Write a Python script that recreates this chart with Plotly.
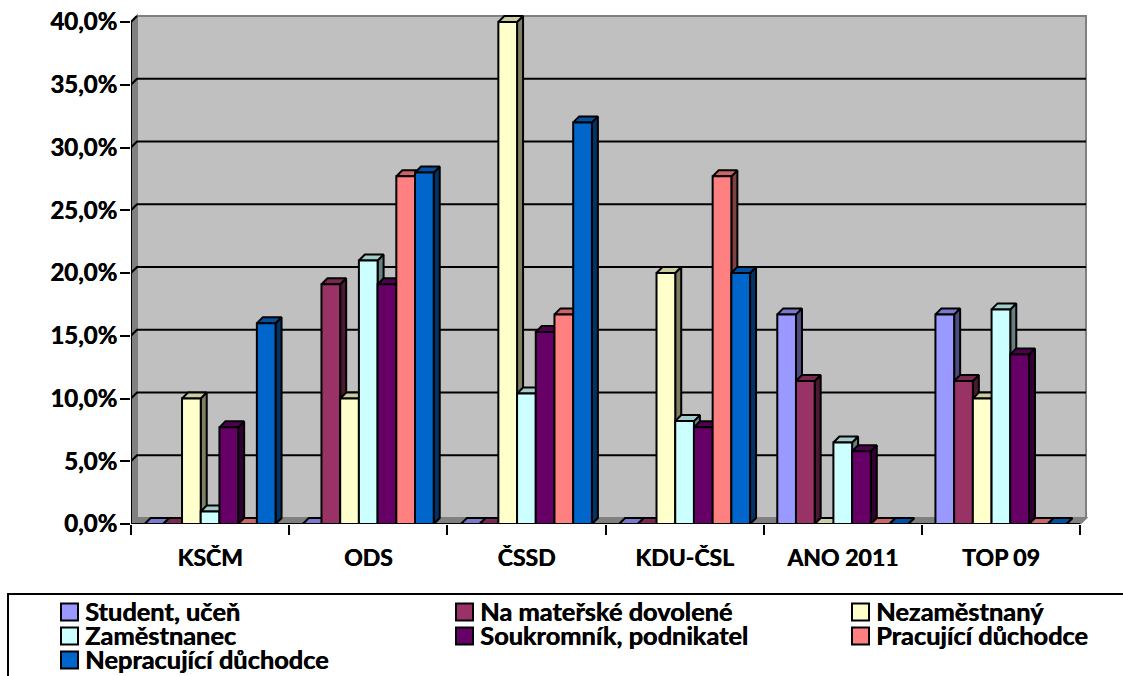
import plotly.graph_objects as go

categories = ["KSČM", "ODS", "ČSSD", "KDU-ČSL", "ANO 2011", "TOP 09"]
series_names = ["Student, učeň", "Na mateřské dovolené", "Nezaměstnaný", "Zaměstnanec",
                "Soukromník, podnikatel", "Pracující důchodce", "Nepracující důchodce"]
student = [0, 0, 0, 0, 16.7, 16.7]
materska = [0, 19.1, 0, 0, 11.4, 11.4]
nezamestnany = [10.0, 10.0, 40.0, 20.0, 0, 10.0]
zamestnanec = [1.0, 21.0, 10.4, 8.2, 6.5, 17.1]
soukromnik = [7.7, 19.1, 15.3, 7.7, 5.8, 13.5]
pracujici = [0, 27.7, 16.7, 27.7, 0, 0]
nepracujici = [16.0, 28.0, 32.0, 20.0, 0, 0]
series_values = [student, materska, nezamestnany, zamestnanec, soukromnik, pracujici, nepracujici]
colors = ["#9999FF", "#993366", "#FFFFCC", "#CCFFFF", "#660066", "#FF8080", "#0066CC"]
y_ticks = [0, 5, 10, 15, 20, 25, 30, 35, 40]
y_labels = ["0,0%", "5,0%", "10,0%", "15,0%", "20,0%", "25,0%", "30,0%", "35,0%", "40,0%"]

W, H = 1123, 676
FONT = "Lato"
WEIGHT = "bold"
SHADOW = "0.5px 0 0 #000"
FS_Y, FS_X, FS_LEG = 24, 23, 25.4
L, R, T, B = 131, 1092, 10, 524     # plot area in pixels
CAT_PX = (1080 - 131) / 6
PCT_PX = (524 - 22) / 40
DEPTH = 6
dx, dy = DEPTH / CAT_PX, DEPTH / PCT_PX
GAP = 0.172
bw = (1 - GAP) / 7
x0, x1 = -0.5, 5.5


def shade(hex_color, f):
    r, g, b = (int(hex_color[i:i + 2], 16) for i in (1, 3, 5))
    return f"rgb({int(r * f)},{int(g * f)},{int(b * f)})"


def px_x(p):
    return (p - L) / (R - L)


def px_y(p):
    return (B - p) / (B - T)


fig = go.Figure()

# Walls of the 3-D box
wall_line = dict(color="#808080", width=2)
shapes = [
    dict(type="path", xref="x", yref="y", layer="below", fillcolor="#808080", line=wall_line,
         path=f"M{x0},0 L{x0 + dx},{dy} L{x0 + dx},{40 + dy} L{x0},40 Z"),
    dict(type="path", xref="x", yref="y", layer="below", fillcolor="#808080", line=wall_line,
         path=f"M{x0},0 L{x1},0 L{x1 + dx},{dy} L{x0 + dx},{dy} Z"),
    dict(type="rect", xref="x", yref="y", layer="below", fillcolor="#C0C0C0", line=wall_line,
         x0=x0 + dx, x1=x1 + dx, y0=dy, y1=40 + dy),
]

# Gridlines on the back wall with their slanted stubs on the side wall
gx, gy = [], []
for v in y_ticks[1:-1]:
    gx += [x0, x0 + dx, x1 + dx, None]
    gy += [v, v + dy, v + dy, None]
fig.add_trace(go.Scatter(x=gx, y=gy, mode="lines", line=dict(color="black", width=2),
                         hoverinfo="skip", showlegend=False, zorder=0))
fig.add_trace(go.Scatter(x=[x0, x0 + dx], y=[40, 40 + dy], mode="lines", line=dict(color="black", width=2),
                         hoverinfo="skip", showlegend=False, zorder=0))

# Side faces, then top faces, then fronts
for i, (vals, col) in enumerate(zip(series_values, colors)):
    sx, sy, tx, ty = [], [], [], []
    for c, v in enumerate(vals):
        left = c - (1 - GAP) / 2 + i * bw
        right = left + bw
        sx += [right, right + dx, right + dx, right, right, None]
        sy += [0, dy, v + dy, v, 0, None]
        tx += [left, right, right + dx, left + dx, left, None]
        ty += [v, v, v + dy, v + dy, v, None]
    fig.add_trace(go.Scatter(x=sx, y=sy, mode="lines", fill="toself", fillcolor=shade(col, 0.5),
                             line=dict(color="black", width=2), hoverinfo="skip", showlegend=False, zorder=1))
    fig.add_trace(go.Scatter(x=tx, y=ty, mode="lines", fill="toself", fillcolor=shade(col, 0.8),
                             line=dict(color="black", width=2), hoverinfo="skip", showlegend=False, zorder=2))

for name, vals, col in zip(series_names, series_values, colors):
    fig.add_trace(go.Bar(x=list(range(6)), y=vals, name=name, marker=dict(color=col, line=dict(color="black", width=2)),
                         showlegend=False, zorder=3))

# Front axis lines
fig.add_trace(go.Scatter(x=[x0, x0, x1], y=[40, 0, 0], mode="lines", line=dict(color="black", width=2),
                         hoverinfo="skip", showlegend=False, cliponaxis=False, zorder=4))

# Legend box
LEG_L, LEG_T = 8, 594
shapes.append(dict(type="rect", xref="paper", yref="paper", line=dict(color="black", width=2), fillcolor="white",
                   x0=px_x(LEG_L), x1=px_x(W + 10), y0=px_y(LEG_T), y1=px_y(H + 10), layer="above"))
col_x = [60, 455, 851]
row_y = [612, 636, 660]
annotations = []
for k, (name, col) in enumerate(zip(series_names, colors)):
    cx, cy = col_x[k % 3], row_y[k // 3]
    shapes.append(dict(type="rect", xref="paper", yref="paper", fillcolor=col, line=dict(color="black", width=2),
                       x0=px_x(cx + 1), x1=px_x(cx + 18), y0=px_y(cy - 8.5), y1=px_y(cy + 8.5), layer="above"))
    annotations.append(dict(text=name, xref="paper", yref="paper", x=px_x(cx + 24), y=px_y(cy - 1.5),
                            xanchor="left", yanchor="middle", showarrow=False, borderpad=0,
                            font=dict(family=FONT, size=FS_LEG, color="black", weight=WEIGHT, shadow=SHADOW)))

fig.update_layout(
    width=W, height=H, autosize=False,
    margin=dict(l=L, r=W - R, t=T, b=H - B, pad=0, autoexpand=False),
    paper_bgcolor="white", plot_bgcolor="rgba(0,0,0,0)",
    barmode="group", bargap=GAP, bargroupgap=0,
    font=dict(family=FONT, size=FS_Y, color="black", weight=WEIGHT),
    shapes=shapes, annotations=annotations, showlegend=False,
    xaxis=dict(automargin=False, range=[x0, x0 + (R - L) / CAT_PX], showgrid=False, zeroline=False, showline=False,
               tickmode="array", tickvals=list(range(6)), ticktext=categories, ticks="", ticklen=0,
               minor=dict(tickmode="array", tickvals=[c - 0.5 for c in range(7)], ticks="outside",
                          ticklen=10, tickwidth=2, tickcolor="black", showgrid=False),
               tickfont=dict(family=FONT, size=FS_X, color="black", weight=WEIGHT, shadow=SHADOW), ticklabelstandoff=18),
    yaxis=dict(automargin=False, range=[0, (B - T) / PCT_PX], showgrid=False, zeroline=False, showline=False,
               tickmode="array", tickvals=y_ticks, ticktext=y_labels, ticks="outside", ticklen=10,
               tickwidth=2, tickcolor="black", ticklabelstandoff=-2,
               tickfont=dict(family=FONT, size=FS_Y, color="black", weight=WEIGHT, shadow=SHADOW)),
)

fig.write_html("out.html", config={"displayModeBar": False},
               post_script="document.body.style.margin='0';document.body.style.overflow='hidden';")
